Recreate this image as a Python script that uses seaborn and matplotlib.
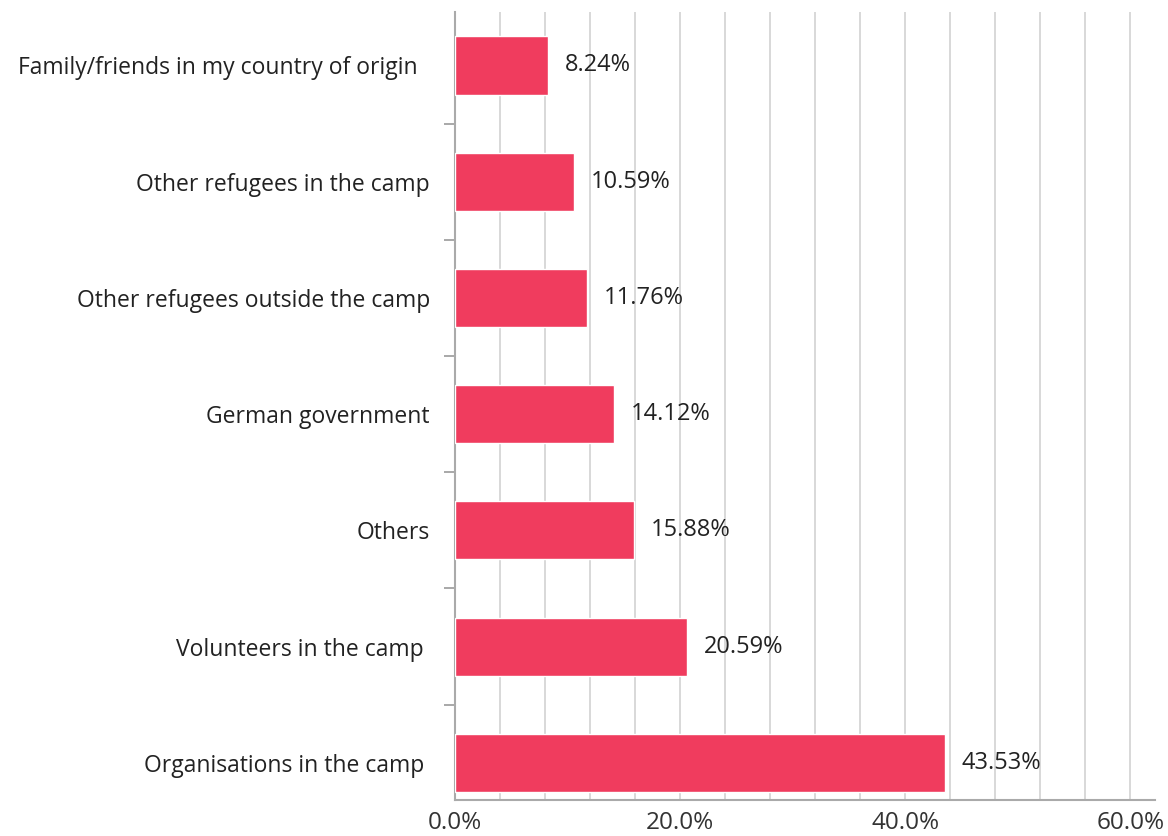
import matplotlib
matplotlib.use("Agg")
import matplotlib.pyplot as plt
import seaborn as sns
import pandas as pd
import numpy as np
from matplotlib.ticker import MultipleLocator, FuncFormatter

categories = [
    "Family/friends in my country of origin  ",
    "Other refugees in the camp",
    "Other refugees outside the camp",
    "German government",
    "Others",
    "Volunteers in the camp ",
    "Organisations in the camp ",
]
values = [8.24, 10.59, 11.76, 14.12, 15.88, 20.59, 43.53]
x_tick_values = [0, 20, 40, 60]

sns.set_theme(style="white")
plt.rcParams['font.family'] = ['Open Sans', 'DejaVu Sans']

df = pd.DataFrame({"category": categories, "value": values})

fig = plt.figure(figsize=(11.68, 8.36), dpi=100)
ax = fig.add_axes([455/1168, 1 - 800/836, (1155 - 455)/1168, (800 - 12)/836])

sns.barplot(data=df, x="value", y="category", color="#F03C5E", width=0.5,
            saturation=1, ax=ax, orient="h", zorder=3)

ax.set_xlim(0, 62.2)
ax.set_ylim(6.32, -0.46)

ax.set_xticks(x_tick_values)
ax.xaxis.set_major_formatter(FuncFormatter(lambda v, p: f"{v:.1f}%"))
ax.xaxis.set_minor_locator(MultipleLocator(4))
ax.grid(True, axis="x", which="both", color="#d6d6d6", linewidth=1.3, zorder=0)
ax.set_axisbelow(True)
ax.tick_params(axis="x", which="both", length=0, labelsize=17.5, colors="#333333", pad=8)

ax.set_yticks(range(len(categories)))
ax.set_yticklabels(categories)
ax.yaxis.set_minor_locator(matplotlib.ticker.FixedLocator([0.5 + i for i in range(6)]))
ax.tick_params(axis="y", which="major", length=0, labelsize=16.5, colors="#222222", pad=18)
ax.tick_params(axis="y", which="minor", length=8, width=1.2, color="#999999", left=True)

ax.set_xlabel("")
ax.set_ylabel("")
for s in ["top", "right"]:
    ax.spines[s].set_visible(False)
for s in ["left", "bottom"]:
    ax.spines[s].set_color("#aaaaaa")
    ax.spines[s].set_linewidth(1.5)

ax.bar_label(ax.containers[0], labels=[f"{v:.2f}%" for v in values],
             padding=12, fontsize=17, color="#222222")

fig.savefig("out.png", dpi=100)
